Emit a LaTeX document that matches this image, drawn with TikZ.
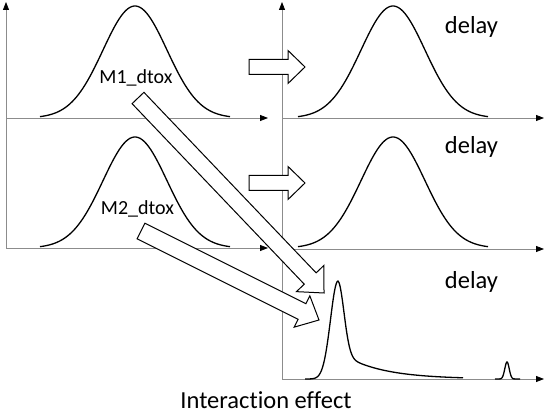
\documentclass[tikz,border=0pt]{standalone}
\usepackage{fontspec}
\setmainfont[Ligatures=NoCommon]{Carlito}
\usetikzlibrary{arrows.meta, calc}
\tikzset{
  axis/.style={draw=black!45, line width=0.8pt, -{Triangle[black, length=8pt, width=6pt]}},
  curve/.style={draw=black, line width=1.3pt},
  fat arrow/.style={draw=black, fill=white, line width=1pt, line join=miter},
  delay label/.style={font=\fontsize{24.5}{28}\selectfont, anchor=base, inner sep=0pt},
  dose label/.style={font=\fontsize{20}{24}\selectfont, anchor=base, inner sep=0pt}
}
% block arrow: name, tail, tip, half body width, half head width, head length
\newcommand{\blockarrow}[6]{%
  \coordinate (#1-h) at ($(#3)!#6!(#2)$);
  \draw[fat arrow] ($(#2)!#4!90:(#3)$) -- ($(#1-h)!#4!90:(#3)$) -- ($(#1-h)!#5!90:(#3)$)
    -- (#3) -- ($(#1-h)!#5!-90:(#3)$) -- ($(#1-h)!#4!-90:(#3)$) -- ($(#2)!#4!-90:(#3)$) -- cycle;
}

\begin{document}
\begin{tikzpicture}[x=1pt, y=1pt]
  \useasboundingbox (0,0) rectangle (545,414);

  % axes
  \draw[axis] (6,166) -- (6,412);
  \draw[axis] (6,296) -- (268,296);
  \draw[axis] (6,166) -- (268,166);
  \draw[axis] (282,34) -- (282,412);
  \draw[axis] (282,296) -- (544,296);
  \draw[axis] (282,165) -- (544,165);
  \draw[axis] (282,35) -- (544,35);

  % gaussian profiles
  \foreach \cx in {135, 393} {
    \draw[curve] plot[domain=-95:95, samples=90, smooth] ({\cx+\x}, {296+112*exp(-((\x)*(\x))/2048)});
    \draw[curve] plot[domain=-95:95, samples=90, smooth] ({\cx+\x}, {166+111*exp(-((\x)*(\x))/2048)});
  }

  % interaction peak
  \draw[curve] plot[domain=305:338, samples=40, smooth] (\x, {35+98*exp(-((\x-338)*(\x-338))/112.5)})
    -- plot[domain=338:463, samples=120, smooth] (\x, {35+98*(0.72*exp(-((\x-338)*(\x-338))/72)+0.28*exp(-(\x-338)/40))});
  \draw[curve] (495,35) -- plot[domain=500:514, samples=40, smooth] (\x, {35+17*exp(-((\x-507)*(\x-507))/9.7)}) -- (520,35);

  % labels
  \node[dose label] (m1) at (136,330) {M1\_dtox};
  \node[dose label] (m2) at (137.5,199) {M2\_dtox};
  \node[delay label] (d1) at (471.5,380) {delay};
  \node[delay label] (d2) at (471.5,260) {delay};
  \node[delay label] (d3) at (471.5,125) {delay};
  \node[delay label] (effect) at (266,5) {Interaction effect};

  % arrow ends
  \coordinate (t1) at (249,347);
  \coordinate (h1) at (305,347);
  \coordinate (t2) at (249,231);
  \coordinate (h2) at (305,231);
  \coordinate (t3) at (138,316);
  \coordinate (h3) at (324,121);
  \coordinate (t4) at (141,183);
  \coordinate (h4) at (319,94);

  \blockarrow{a1}{t1}{h1}{7.5pt}{16.5pt}{17pt}
  \blockarrow{a2}{t2}{h2}{7.5pt}{16.5pt}{17pt}
  \blockarrow{a3}{t3}{h3}{8.2pt}{19pt}{20pt}
  \blockarrow{a4}{t4}{h4}{8.7pt}{17.5pt}{19pt}
\end{tikzpicture}
\end{document}
